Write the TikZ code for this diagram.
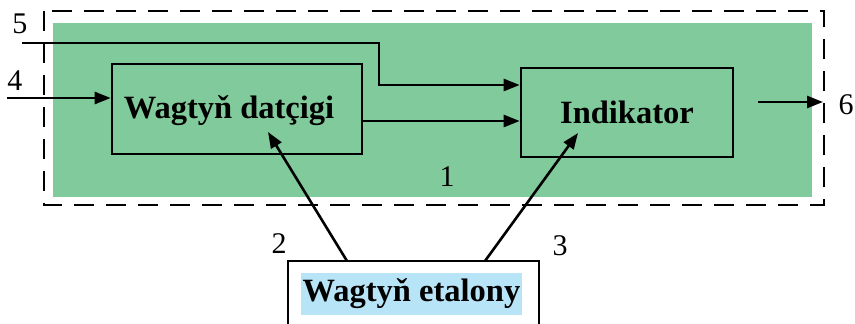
\documentclass[tikz,border=0pt]{standalone}
\usepackage{fontspec}
\setmainfont{Liberation Serif}
\usepackage{xcolor}
\usetikzlibrary{arrows.meta,positioning}
\definecolor{blockgreen}{RGB}{128,202,155}
\definecolor{labelblue}{RGB}{184,228,248}
\tikzset{
  blockbox/.style={draw, line width=2.6pt, inner sep=0pt, font=\fontsize{32.5}{34}\selectfont\bfseries},
  numlabel/.style={inner sep=0pt, font=\fontsize{30}{32}\selectfont},
  sig/.style={line width=2.6pt, -{Triangle[length=16pt,width=12pt]}},
  plainsig/.style={line width=2.6pt}
}
\begin{document}
\begin{tikzpicture}[x=1pt,y=-1pt]
        \useasboundingbox (0,0) rectangle (855,324);
        \clip (0,0) rectangle (855,324);

        % Background of block 1
        \fill[blockgreen] (53,23) rectangle (812,197);
        \draw[line width=2.6pt, dash pattern=on 20pt off 12pt] (44,11) rectangle (824,205);

        % Blocks
        \node[blockbox, minimum width=250pt, minimum height=90pt] (dat) at (237,109) {};
        \node[font=\fontsize{32.5}{34}\selectfont\bfseries, inner sep=0pt] (dattext) at (229,111) {Wagtyň datçigi};
        \node[blockbox, minimum width=212pt, minimum height=89pt] (ind) at (627,112.5) {Indikator};
        \node[blockbox, fill=white, minimum width=251pt, minimum height=76pt] (etalon) at (413.5,299) {};
        \node[fill=labelblue, inner xsep=2pt, inner ysep=6pt, font=\fontsize{32.5}{34}\selectfont\bfseries] (etalontext) at (411.5,294) {Wagtyň etalony};

        % Inputs
        \coordinate (in5) at (22,43);
        \coordinate (b5) at (379,85);
        \coordinate (in4) at (7,98);
        \draw[sig] (in5) -| (b5) -- (b5 -| ind.west);
        \draw[sig] (in4) -- (in4 -| dat.west);
        \coordinate (m) at (362,121);
        \draw[sig] (m) -- (m -| ind.west);

        % Output
        \coordinate (o1) at (758,102);
        \coordinate (o2) at (823,102);
        \draw[sig] (o1) -- (o2);

        % Etalon links
        \coordinate (e2) at (347,261);
        \coordinate (e3) at (485,261);
        \coordinate (t2) at (268,132);
        \coordinate (t3) at (578,133);
        \draw[sig] (e2) -- (t2);
        \draw[sig] (e3) -- (t3);

        % Numbers
        \node[numlabel] (l5) at (20,24) {5};
        \node[numlabel] (l4) at (15,81) {4};
        \node[numlabel] (l6) at (846,105) {6};
        \node[numlabel] (l1) at (447,177) {1};
        \node[numlabel] (l2) at (279,244) {2};
        \node[numlabel] (l3) at (560,246) {3};
    \end{tikzpicture}
\end{document}
